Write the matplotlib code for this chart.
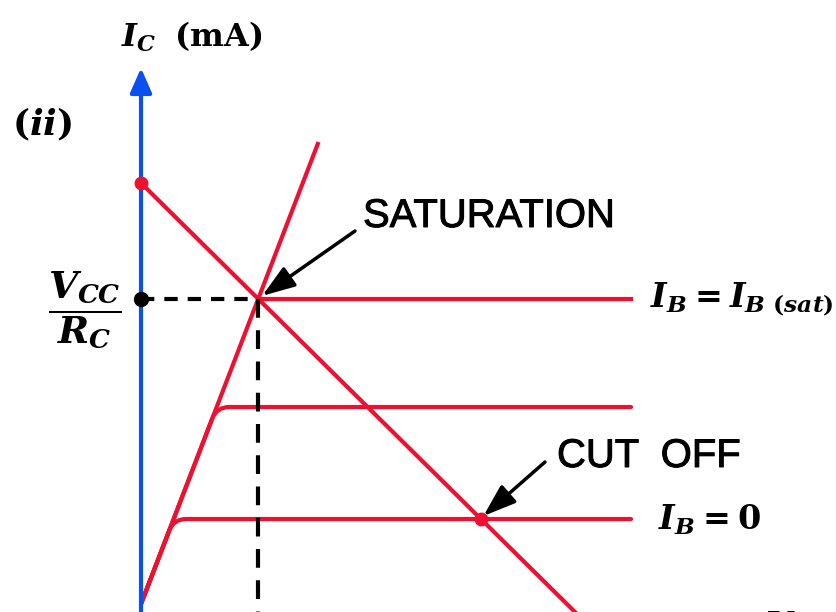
import matplotlib.pyplot as plt
import numpy as np
from matplotlib.path import Path
from matplotlib.patches import PathPatch
import matplotlib.patheffects as pe

plt.rcParams['mathtext.fontset'] = 'custom'
plt.rcParams['mathtext.rm'] = 'DejaVu Serif:bold'
plt.rcParams['mathtext.it'] = 'DejaVu Serif:italic:bold'
plt.rcParams['mathtext.bf'] = 'DejaVu Serif:bold'

RED = '#ee1030'
BLUE = '#0a4ff0'

# load line (V_CE, I_C) end points
load_v = [0.0, 8.68]
load_i = [8.42, -0.16]
# saturation (ohmic) line from origin
sat_v = [0.0, 3.55]
sat_i = [0.0, 9.24]
# I_B curves below saturation: middle curve and I_B = 0
ib_levels = [3.94, 1.70]
curve_end = 9.8
axis_top = 10.72

load_slope = (load_i[1] - load_i[0]) / (load_v[1] - load_v[0])
sat_slope = sat_i[1] / sat_v[1]

# saturation point = load line meets the steep line
v_sat = load_i[0] / (sat_slope - load_slope)
i_sat = sat_slope * v_sat
# cut-off point = load line meets I_B = 0 curve
v_cut = (ib_levels[1] - load_i[0]) / load_slope
i_cut = ib_levels[1]

fig = plt.figure(figsize=(8.36, 6.12), dpi=100)
ax = fig.add_axes([0, 0, 1, 1])
ax.set_xlim(-2.82, 13.9)
ax.set_ylim(-0.16, 12.08)
ax.axis('off')

# I_C axis with arrow
ax.annotate('', xy=(0, axis_top), xytext=(0, -0.3),
            arrowprops=dict(arrowstyle='-|>,head_length=0.75,head_width=0.33',
                            mutation_scale=20, lw=3, color=BLUE,
                            shrinkA=0, shrinkB=0))


def knee_curve(level, d=0.25):
    xk = level / sat_slope
    n = np.hypot(1, sat_slope)
    p0 = (xk - d / n, level - d * sat_slope / n)
    verts = [(0, 0), p0, (xk, level), (xk + d, level), (curve_end, level)]
    codes = [Path.MOVETO, Path.LINETO, Path.CURVE3, Path.CURVE3, Path.LINETO]
    return PathPatch(Path(verts, codes), fill=False, edgecolor=RED, lw=3,
                     capstyle='round', joinstyle='round')


for lvl in ib_levels:
    ax.add_patch(knee_curve(lvl))

ax.plot(sat_v, sat_i, color=RED, lw=3, solid_capstyle='butt')
ax.plot([v_sat, curve_end], [i_sat, i_sat], color=RED, lw=3)
ax.plot(load_v, load_i, color=RED, lw=3)

# dashed guides from the saturation point
ax.plot([0, v_sat], [i_sat, i_sat], color='black', lw=3, dashes=(3.2, 2.4))
ax.plot([v_sat, v_sat], [i_sat, -0.3], color='black', lw=3, dashes=(4.5, 3))

ax.plot(0, load_i[0], 'o', color=RED, ms=9, zorder=5)
ax.plot(0, i_sat, 'o', color='black', ms=10, zorder=5)
ax.plot(v_cut, i_cut, 'o', color=RED, ms=9, zorder=5)

arrow_kw = dict(arrowstyle='-|>,head_length=1.0,head_width=0.35',
                mutation_scale=20, lw=2.5, color='black', shrinkA=0, shrinkB=0)
ax.annotate('', xy=(v_sat + 0.08, i_sat + 0.06), xytext=(4.28, 7.46),
            arrowprops=arrow_kw)
ax.annotate('', xy=(v_cut + 0.05, i_cut + 0.06), xytext=(8.08, 2.84),
            arrowprops=arrow_kw)

heavy = [pe.withStroke(linewidth=0.7, foreground='black')]
ax.text(4.44, 7.54, 'SATURATION', fontsize=28.8, family='Liberation Sans',
        va='baseline', ha='left', path_effects=heavy)
ax.text(8.32, 2.74, 'CUT  OFF', fontsize=28.8, family='Liberation Sans',
        va='baseline', ha='left', path_effects=heavy)

ax.text(-0.40, 11.14, r'$I_C\;\;\mathrm{(mA)}$', fontsize=23,
        va='baseline', ha='left')
ax.text(-2.58, 9.38, r'$\mathrm{(}ii\mathrm{)}$', fontsize=26,
        va='baseline', ha='left')
ax.text(-1.12, 5.88, r'$\dfrac{V_{CC}}{R_C}$', fontsize=27,
        va='center', ha='center')
ax.text(10.18, 5.94, r'$I_B = I_{B\ (sat)}$', fontsize=24,
        va='baseline', ha='left')
ax.text(10.34, 1.48, r'$I_B = 0$', fontsize=24,
        va='baseline', ha='left')
ax.text(12.48, -0.66, r'$V_{CE}$', fontsize=24,
        va='baseline', ha='left')

fig.savefig('out.png', dpi=100)
